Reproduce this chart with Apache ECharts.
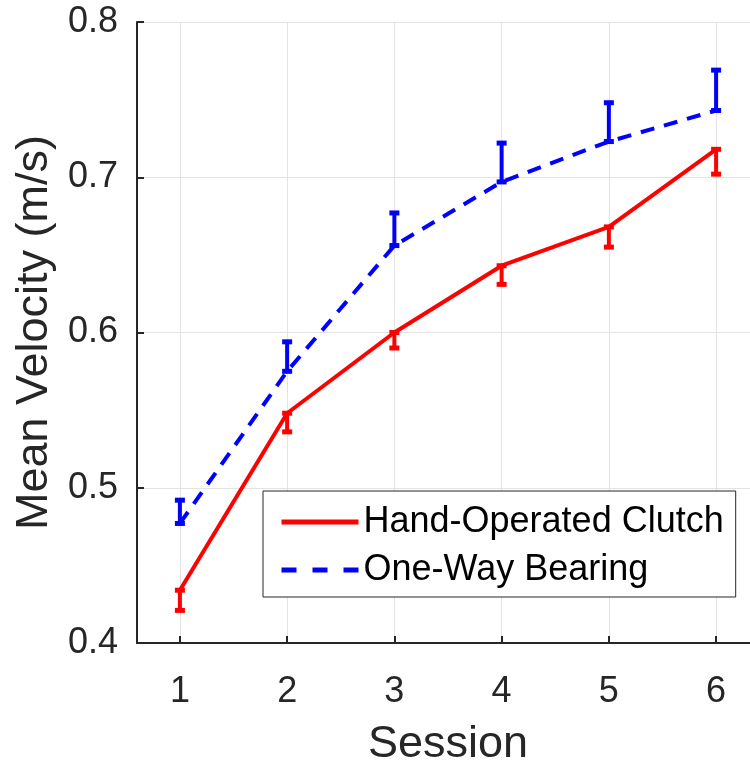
<!DOCTYPE html>
<html>
<head>
<meta charset="utf-8">
<script src="https://cdn.jsdelivr.net/npm/echarts@6/dist/echarts.min.js"></script>
<style>html,body{margin:0;padding:0;background:#fff}#c{width:750px;height:761px}</style>
</head>
<body>
<div id="c"></div>
<script>
const sessions = [1, 2, 3, 4, 5, 6];
const yTicks = [0.4, 0.5, 0.6, 0.7, 0.8];
const clutchMean = [0.434, 0.548, 0.600, 0.643, 0.668, 0.718];
const clutchLower = [0.421, 0.536, 0.590, 0.631, 0.655, 0.702];
const bearingMean = [0.477, 0.575, 0.656, 0.697, 0.723, 0.743];
const bearingUpper = [0.492, 0.594, 0.677, 0.722, 0.748, 0.769];

const FONT = 'Liberation Sans, Arial, Helvetica, sans-serif';
const RED = '#ff0000', BLUE = '#0000ff', AX = '#262626';

function errItem(color) {
  return function (params, api) {
    const x = api.value(0), lo = api.value(1), hi = api.value(2);
    const p1 = api.coord([x, lo]), p2 = api.coord([x, hi]);
    const hw = 5;
    const st = { stroke: color, lineWidth: 4 };
    const cap = { stroke: color, lineWidth: 5 };
    return { type: 'group', children: [
      { type: 'line', shape: { x1: p1[0], y1: p1[1], x2: p2[0], y2: p2[1] }, style: st },
      { type: 'line', shape: { x1: p1[0] - hw, y1: p1[1], x2: p1[0] + hw, y2: p1[1] }, style: cap },
      { type: 'line', shape: { x1: p2[0] - hw, y1: p2[1], x2: p2[0] + hw, y2: p2[1] }, style: cap }
    ]};
  };
}

const chart = echarts.init(document.getElementById('c'), null, { renderer: 'canvas' });
chart.setOption({
  animation: false,
  backgroundColor: '#fff',
  textStyle: { fontFamily: FONT },
  grid: { left: 137, top: 22, right: -9, bottom: 118, containLabel: false, outerBoundsMode: 'none' },
  legend: {
    orient: 'vertical',
    left: 263, top: 491,
    data: [
      { name: 'Hand-Operated Clutch' },
      { name: 'One-Way Bearing', lineStyle: { type: [15, 16] } }
    ],
    itemWidth: 77, itemHeight: 14, itemGap: 8,
    padding: [11, 12, 7, 16],
    borderColor: AX, borderWidth: 1, borderRadius: 0,
    backgroundColor: '#fff',
    itemStyle: { opacity: 0 },
    lineStyle: { width: 5 },
    textStyle: { fontSize: 36, color: '#000', fontFamily: FONT, lineHeight: 40 },
    z: 10
  },
  xAxis: {
    type: 'value', min: 0.6, max: 6.4,
    name: 'Session', nameLocation: 'middle', nameGap: 79,
    nameTextStyle: { fontSize: 45, color: AX, fontFamily: FONT },
    axisLine: { onZero: false, lineStyle: { color: AX, width: 2 } },
    axisTick: { inside: true, length: 7, customValues: sessions, lineStyle: { color: AX, width: 2 } },
    axisLabel: { customValues: sessions, fontSize: 36, color: AX, margin: 31, fontFamily: FONT },
    splitLine: { show: true, lineStyle: { color: '#e3e3e3', width: 1 } }
  },
  yAxis: {
    type: 'value', min: 0.4, max: 0.8, interval: 0.1,
    name: 'Mean Velocity (m/s)', nameLocation: 'middle', nameGap: 80, nameRotate: 90,
    nameTextStyle: { fontSize: 45, color: AX, fontFamily: FONT },
    axisLine: { show: true, lineStyle: { color: AX, width: 2 } },
    axisTick: { show: true, inside: true, length: 7, lineStyle: { color: AX, width: 2 } },
    axisLabel: { fontSize: 36, color: AX, margin: 19, fontFamily: FONT,
      formatter: v => yTicks.some(t => Math.abs(t - v) < 1e-9) ? v.toFixed(1) : '' },
    splitLine: { show: true, lineStyle: { color: '#e3e3e3', width: 1 } }
  },
  series: [
    { name: 'Hand-Operated Clutch', type: 'line', symbol: 'none',
      data: sessions.map((s, i) => [s, clutchMean[i]]),
      lineStyle: { color: RED, width: 4 }, itemStyle: { color: RED }, z: 3 },
    { name: 'One-Way Bearing', type: 'line', symbol: 'none',
      data: sessions.map((s, i) => [s, bearingMean[i]]),
      lineStyle: { color: BLUE, width: 4, type: [14, 10] }, itemStyle: { color: BLUE }, z: 3 },
    { type: 'custom', renderItem: errItem(RED), z: 4,
      data: sessions.map((s, i) => [s, clutchLower[i], clutchMean[i]]) },
    { type: 'custom', renderItem: errItem(BLUE), z: 4,
      data: sessions.map((s, i) => [s, bearingMean[i], bearingUpper[i]]) }
  ]
});
</script>
</body>
</html>
